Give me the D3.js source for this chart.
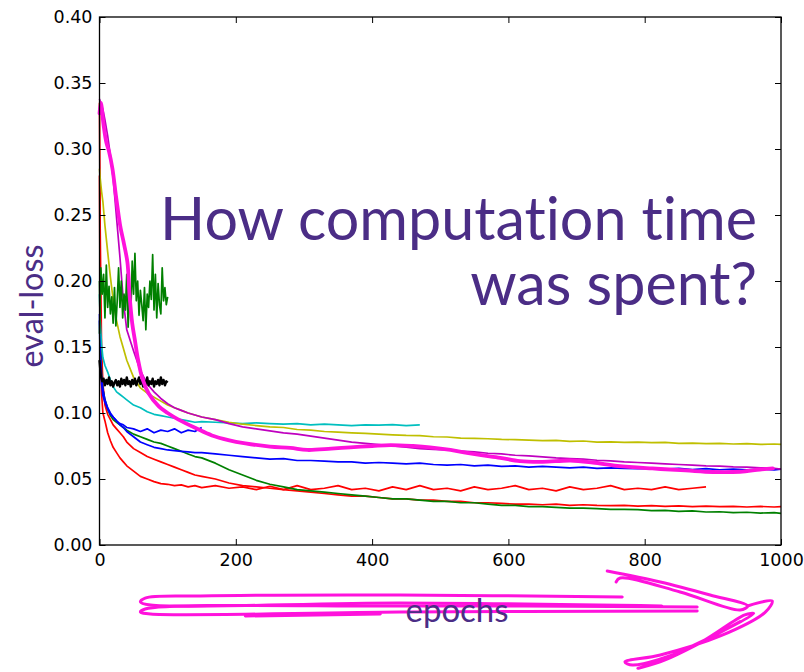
<!DOCTYPE html>
<html>
<head>
<meta charset="utf-8">
<script src="https://cdn.jsdelivr.net/npm/d3@7"></script>
<style>
  body { margin: 0; background: #fff; }
  svg { display: block; }
  text { font-variant-ligatures: none; font-feature-settings: "liga" 0, "clig" 0; }
</style>
</head>
<body>
<svg id="chart" width="804" height="672"></svg>
<script>
// epochs at which the long runs were sampled
const epochs = [
  0, 1, 3, 5, 8, 12, 16, 20, 25, 30, 35, 40,
  50, 60, 70, 80, 90, 100, 110, 120, 130, 140, 150,
  170, 190, 210, 230, 250, 270, 290, 310, 330, 350,
  370, 390, 410, 430, 450, 470, 490, 510, 530, 550,
  570, 590, 610, 630, 650, 670, 690, 710, 730, 750,
  770, 790, 810, 830, 850, 870, 890, 910, 930, 950,
  970, 990, 1000
];

const redLong = [
  0.335, 0.24, 0.15, 0.122, 0.106, 0.099, 0.095, 0.091, 0.088, 0.085, 0.082, 0.078,
  0.073, 0.070, 0.067, 0.065, 0.063, 0.061, 0.059, 0.057, 0.055, 0.053, 0.052,
  0.050, 0.047, 0.045, 0.044, 0.043, 0.042, 0.041, 0.040, 0.039, 0.038,
  0.037, 0.037, 0.036, 0.035, 0.035, 0.034, 0.034, 0.033, 0.033, 0.032,
  0.032, 0.0315, 0.031, 0.031, 0.0305, 0.031, 0.030, 0.0305, 0.030, 0.0298,
  0.030, 0.0295, 0.0298, 0.0293, 0.0296, 0.029, 0.0295, 0.029, 0.0293, 0.0288,
  0.0292, 0.0288, 0.029
];

const redFlat = [
  0.28, 0.17, 0.115, 0.100, 0.094, 0.085, 0.079, 0.074, 0.070, 0.066, 0.063, 0.060,
  0.056, 0.052, 0.050, 0.048, 0.0465, 0.046, 0.045, 0.0455, 0.044, 0.045, 0.0435,
  0.045, 0.043, 0.044, 0.042, 0.0445, 0.042, 0.045, 0.042, 0.043, 0.045,
  0.042, 0.043, 0.041, 0.044, 0.042, 0.045, 0.042, 0.043, 0.041, 0.044,
  0.042, 0.043, 0.045, 0.042, 0.043, 0.041, 0.044, 0.042, 0.043, 0.045,
  0.042, 0.043, 0.042, 0.044, 0.042, 0.043, 0.044
];

const greenLong = [
  0.20, 0.16, 0.13, 0.118, 0.110, 0.103, 0.098, 0.095, 0.093, 0.091, 0.089, 0.087,
  0.084, 0.082, 0.080, 0.078, 0.077, 0.075, 0.073, 0.071, 0.069, 0.067, 0.066,
  0.062, 0.057, 0.053, 0.049, 0.046, 0.044, 0.042, 0.041, 0.040, 0.039,
  0.038, 0.037, 0.036, 0.035, 0.035, 0.034, 0.033, 0.033, 0.032, 0.032,
  0.031, 0.030, 0.030, 0.029, 0.029, 0.0285, 0.028, 0.028, 0.0275, 0.027,
  0.027, 0.0268, 0.026, 0.0262, 0.0255, 0.0258, 0.025, 0.0252, 0.0245, 0.0248,
  0.0242, 0.0245, 0.024
];

const blueLong = [
  0.17, 0.14, 0.122, 0.113, 0.108, 0.103, 0.099, 0.097, 0.094, 0.091, 0.089, 0.086,
  0.082, 0.078, 0.076, 0.074, 0.073, 0.072, 0.0715, 0.071, 0.0705, 0.070, 0.070,
  0.069, 0.068, 0.067, 0.066, 0.065, 0.0655, 0.064, 0.064, 0.0635, 0.063,
  0.063, 0.062, 0.0625, 0.062, 0.0615, 0.062, 0.061, 0.0605, 0.061, 0.060,
  0.0605, 0.0595, 0.060, 0.059, 0.0595, 0.059, 0.0585, 0.059, 0.058, 0.0585,
  0.058, 0.0578, 0.058, 0.0575, 0.058, 0.0572, 0.0578, 0.057, 0.0575, 0.057,
  0.0575, 0.0568, 0.0575
];

const blueShort = [
  0.175, 0.15, 0.128, 0.118, 0.110, 0.104, 0.100, 0.097, 0.094, 0.092, 0.091, 0.089,
  0.088, 0.086, 0.088, 0.085, 0.087, 0.086, 0.088, 0.085, 0.087, 0.086, 0.089
];

const cyan = [
  0.19, 0.17, 0.152, 0.142, 0.136, 0.131, 0.125, 0.120, 0.116, 0.114, 0.112, 0.110,
  0.106, 0.104, 0.101, 0.099, 0.098, 0.097, 0.096, 0.095, 0.094, 0.093, 0.0935,
  0.093, 0.0925, 0.092, 0.0925, 0.092, 0.0915, 0.092, 0.091, 0.0915, 0.091,
  0.0905, 0.091, 0.0908, 0.0912, 0.0905, 0.091
];

const yellow = [
  0.285, 0.278, 0.268, 0.26, 0.242, 0.222, 0.203, 0.186, 0.17, 0.158, 0.149, 0.14,
  0.127, 0.119, 0.115, 0.112, 0.109, 0.106, 0.104, 0.102, 0.100, 0.0985, 0.097,
  0.095, 0.093, 0.0915, 0.0905, 0.0895, 0.089, 0.0875, 0.087, 0.086, 0.0855,
  0.085, 0.0845, 0.084, 0.0835, 0.083, 0.0828, 0.082, 0.0818, 0.081, 0.0808,
  0.0805, 0.080, 0.0798, 0.0795, 0.079, 0.0792, 0.0785, 0.0788, 0.078, 0.0782,
  0.0778, 0.078, 0.0775, 0.0778, 0.077, 0.0772, 0.0768, 0.077, 0.0765, 0.0768,
  0.0762, 0.0765, 0.0762
];

const magenta = [
  0.338, 0.336, 0.333, 0.33, 0.322, 0.31, 0.295, 0.278, 0.248, 0.218, 0.185, 0.163,
  0.147, 0.132, 0.122, 0.116, 0.111, 0.107, 0.104, 0.102, 0.100, 0.0985, 0.097,
  0.095, 0.092, 0.0895, 0.088, 0.0865, 0.085, 0.084, 0.0825, 0.081, 0.0795,
  0.078, 0.077, 0.076, 0.075, 0.0742, 0.073, 0.0725, 0.072, 0.0712, 0.0705,
  0.0695, 0.069, 0.068, 0.0675, 0.0668, 0.066, 0.0655, 0.065, 0.0642, 0.0638,
  0.063, 0.0625, 0.062, 0.0615, 0.061, 0.0605, 0.060, 0.0598, 0.0592, 0.059,
  0.0585, 0.058, 0.0575
];

// short noisy runs, sampled every 2 epochs
const epochsShort = [
  0, 2, 4, 6, 8, 10, 12, 14, 16, 18, 20, 22, 24, 26, 28, 30, 32, 34, 36, 38,
  40, 42, 44, 46, 48, 50, 52, 54, 56, 58, 60, 62, 64, 66, 68, 70, 72, 74, 76, 78,
  80, 82, 84, 86, 88, 90, 92, 94, 96, 98, 100
];

const greenNoisy = [
  0.16, 0.21, 0.19, 0.205, 0.172, 0.212, 0.18, 0.196, 0.175, 0.188, 0.168, 0.195, 0.166, 0.185, 0.21, 0.18, 0.2, 0.172, 0.19, 0.178,
  0.205, 0.165, 0.188, 0.176, 0.215, 0.19, 0.221, 0.185, 0.2, 0.174, 0.193, 0.182, 0.17, 0.195, 0.163, 0.19, 0.18, 0.2, 0.186, 0.22,
  0.178, 0.205, 0.172, 0.198, 0.182, 0.175, 0.21, 0.185, 0.195, 0.182, 0.188
];

const blackNoisy = [
  0.14, 0.128, 0.124, 0.126, 0.121, 0.125, 0.122, 0.127, 0.121, 0.124, 0.12, 0.123, 0.125, 0.121, 0.124, 0.12, 0.126, 0.122, 0.125, 0.121,
  0.127, 0.122, 0.124, 0.12, 0.125, 0.122, 0.126, 0.121, 0.124, 0.127, 0.122, 0.125, 0.12, 0.124, 0.122, 0.127, 0.121, 0.124, 0.122, 0.126,
  0.12, 0.124, 0.122, 0.125, 0.121, 0.127, 0.122, 0.125, 0.121, 0.124, 0.123
];

// hand-drawn highlight over one run
const penEpochs = [
  0, 2, 6, 10, 14, 19, 24, 28, 31, 36, 41, 44, 48, 52, 56, 63, 72, 87, 100, 116,
  141, 165, 189, 214, 250, 280, 305, 340, 368, 400, 427, 460, 485, 515, 539, 560, 588, 617, 650, 691,
  724, 760, 811, 860, 900, 940, 969, 988
];
const penLoss = [
  0.327, 0.335, 0.318, 0.305, 0.298, 0.285, 0.265, 0.25, 0.24, 0.228, 0.214, 0.19, 0.168, 0.155, 0.142, 0.126, 0.115, 0.105, 0.1, 0.095,
  0.0886, 0.083, 0.0795, 0.077, 0.0745, 0.0735, 0.072, 0.073, 0.074, 0.075, 0.0757, 0.075, 0.074, 0.072, 0.0697, 0.068, 0.066, 0.0635, 0.063, 0.064,
  0.0625, 0.06, 0.058, 0.0565, 0.0553, 0.0555, 0.0572, 0.058
];

// hand-drawn arrow under the axis, in (epoch, loss) units
const arrowStrokes = [
  [[767, -0.0394], [441, -0.0379], [148, -0.0386], [67, -0.0402], [60, -0.0432], [75, -0.0455], [441, -0.0439], [825, -0.0462]],
  [[877, -0.047], [441, -0.0462], [67, -0.0485], [60, -0.0508], [75, -0.0523], [441, -0.0508], [877, -0.05]],
  [[214, -0.0538], [412, -0.0523]],
  [[745, -0.0197], [823, -0.028], [896, -0.0379], [951, -0.0462], [940, -0.0492], [852, -0.0356], [764, -0.025], [758, -0.028]],
  [[951, -0.0462], [987, -0.0424], [977, -0.0508], [911, -0.0689], [823, -0.0833], [771, -0.0886], [782, -0.0909], [867, -0.078], [947, -0.053],
   [960, -0.052], [880, -0.074], [800, -0.092], [790, -0.0935], [830, -0.087], [940, -0.058]]
];

const xTicks = [0, 200, 400, 600, 800, 1000];
const yTicks = [0, 0.05, 0.10, 0.15, 0.20, 0.25, 0.30, 0.35, 0.40];

const series = [
  {x: epochs, y: redLong, color: "#ff0000"},
  {x: epochs, y: redFlat, color: "#ff0000"},
  {x: epochs, y: greenLong, color: "#008000"},
  {x: epochs, y: blueLong, color: "#0000ff"},
  {x: epochs, y: blueShort, color: "#0000ff"},
  {x: epochs, y: cyan, color: "#00bfbf"},
  {x: epochs, y: yellow, color: "#bfbf00"},
  {x: epochs, y: magenta, color: "#bf00bf"},
  {x: epochsShort, y: greenNoisy, color: "#008000"},
  {x: epochsShort, y: blackNoisy, color: "#000000", w: 2.4}
];

const purple = "#4b2d86";
const pink = "#ff12dc";

const svg = d3.select("#chart");
const plotLeft = 99.5, plotRight = 781, plotTop = 17, plotBottom = 545;

const x = d3.scaleLinear().domain([0, 1000]).range([plotLeft, plotRight]);
const y = d3.scaleLinear().domain([0, 0.4]).range([plotBottom, plotTop]);

const line = d3.line().x(d => x(d[0])).y(d => y(d[1]));

svg.append("g")
  .selectAll("path")
  .data(series)
  .join("path")
    .attr("fill", "none")
    .attr("stroke", d => d.color)
    .attr("stroke-width", d => d.w || 1.7)
    .attr("stroke-linejoin", "round")
    .attr("d", d => line(d.y.map((v, i) => [d.x[i], v])));

// thick pen highlight
svg.append("path")
  .attr("fill", "none")
  .attr("stroke", pink)
  .attr("stroke-width", 3.8)
  .attr("stroke-linecap", "round")
  .attr("stroke-linejoin", "round")
  .attr("d", d3.line().x(d => x(d[0])).y(d => y(d[1])).curve(d3.curveCatmullRom)(penEpochs.map((e, i) => [e, penLoss[i]])));

// axes, matplotlib style: ticks inward on all four sides
const fontTicks = "'DejaVu Sans', sans-serif";

const xAxis = g => g
  .attr("transform", `translate(0,${plotBottom})`)
  .call(d3.axisBottom(x).tickValues(xTicks).tickSize(-6).tickPadding(9).tickFormat(d3.format("d")))
  .call(g => g.select(".domain").remove());

const yAxis = g => g
  .attr("transform", `translate(${plotLeft},0)`)
  .call(d3.axisLeft(y).tickValues(yTicks).tickSize(-6).tickPadding(7).tickFormat(d3.format(".2f")))
  .call(g => g.select(".domain").remove());

svg.append("g").call(xAxis);
svg.append("g").call(yAxis);

svg.append("g")
  .attr("transform", `translate(0,${plotTop})`)
  .call(d3.axisTop(x).tickValues(xTicks).tickSize(-6).tickFormat(""))
  .call(g => g.select(".domain").remove());

svg.append("g")
  .attr("transform", `translate(${plotRight},0)`)
  .call(d3.axisRight(y).tickValues(yTicks).tickSize(-6).tickFormat(""))
  .call(g => g.select(".domain").remove());

svg.selectAll(".tick text")
  .attr("font-family", fontTicks)
  .attr("font-size", 17.5)
  .attr("fill", "#000");
svg.selectAll(".tick line").attr("stroke", "#000");

svg.append("rect")
  .attr("x", plotLeft).attr("y", plotTop)
  .attr("width", plotRight - plotLeft).attr("height", plotBottom - plotTop)
  .attr("fill", "none")
  .attr("stroke", "#000")
  .attr("stroke-width", 1.3);

// hand-drawn arrow
svg.append("g")
  .selectAll("path")
  .data(arrowStrokes)
  .join("path")
    .attr("fill", "none")
    .attr("stroke", pink)
    .attr("stroke-width", 3)
    .attr("stroke-linecap", "round")
    .attr("stroke-linejoin", "round")
    .attr("d", d3.line().x(d => x(d[0])).y(d => y(d[1])).curve(d3.curveCatmullRom));

// fit a text element's font size to a given width
function fit(sel, width) {
  sel.attr("font-size", 100);
  const len = sel.node().getComputedTextLength();
  sel.attr("font-size", 100 * width / len);
  return sel;
}

const fontTitle = "Lato, 'Open Sans', sans-serif";

const t1 = svg.append("text")
  .attr("x", 757).attr("y", 240)
  .attr("text-anchor", "end")
  .attr("font-family", fontTitle)
  .attr("fill", purple)
  .text("How computation time");
fit(t1, 597);

svg.append("text")
  .attr("x", 757).attr("y", 305)
  .attr("text-anchor", "end")
  .attr("font-family", fontTitle)
  .attr("font-size", t1.attr("font-size"))
  .attr("fill", purple)
  .text("was spent?");

const yl = svg.append("text")
  .attr("transform", "translate(43,306) rotate(-90)")
  .attr("text-anchor", "middle")
  .attr("font-family", fontTitle)
  .attr("fill", purple)
  .text("eval-loss");
fit(yl, 123);

const xl = svg.append("text")
  .attr("x", 457).attr("y", 622)
  .attr("text-anchor", "middle")
  .attr("font-family", fontTitle)
  .attr("fill", purple)
  .text("epochs");
fit(xl, 103);
</script>
</body>
</html>
